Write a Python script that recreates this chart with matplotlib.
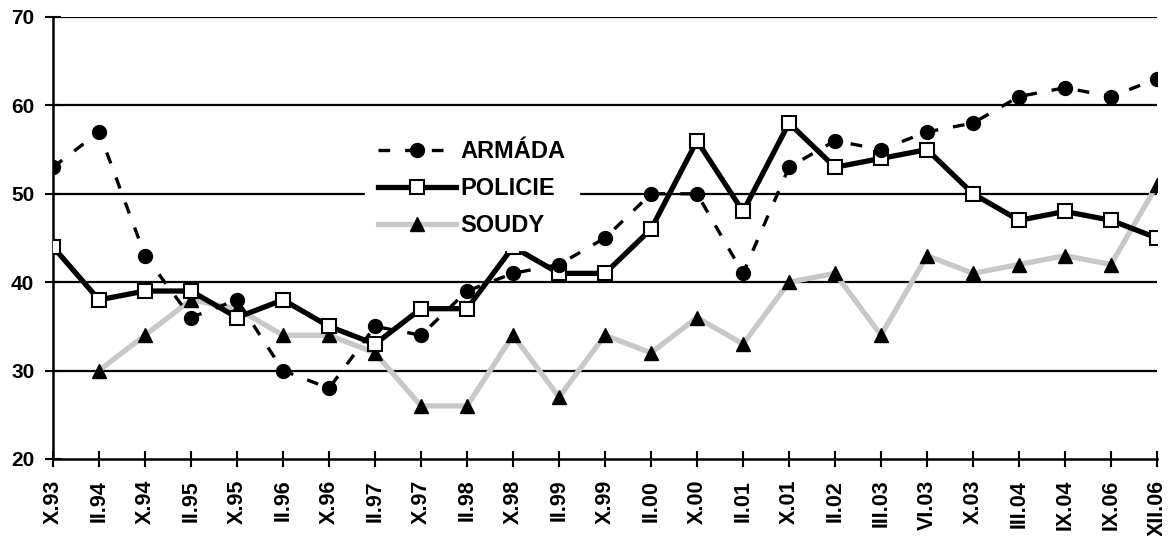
import numpy as np
import matplotlib.pyplot as plt

# Survey waves
periods = ['X.93', 'II.94', 'X.94', 'II.95', 'X.95', 'II.96', 'X.96', 'II.97', 'X.97',
           'II.98', 'X.98', 'II.99', 'X.99', 'II.00', 'X.00', 'II.01', 'X.01', 'II.02',
           'III.03', 'VI.03', 'X.03', 'III.04', 'IX.04', 'IX.06', 'XII.06']

armada = [53, 57, 43, 36, 38, 30, 28, 35, 34, 39, 41, 42, 45, 50, 50, 41, 53, 56,
          55, 57, 58, 61, 62, 61, 63]
policie = [44, 38, 39, 39, 36, 38, 35, 33, 37, 37, 44, 41, 41, 46, 56, 48, 58, 53,
           54, 55, 50, 47, 48, 47, 45]
# no value for the first wave
soudy = [np.nan, 30, 34, 38, 37, 34, 34, 32, 26, 26, 34, 27, 34, 32, 36, 33, 40, 41,
         34, 43, 41, 42, 43, 42, 51]

plt.rcParams['font.family'] = ['Liberation Sans', 'DejaVu Sans']
plt.rcParams['font.weight'] = 'bold'

fig = plt.figure(figsize=(11.68, 5.36), dpi=100)
ax = fig.add_axes([0.0454, 0.1437, 0.9452, 0.8246])

x = np.arange(len(periods))

ax.plot(x, soudy, color='#c8c8c8', lw=3.8, marker='^', ms=10.5,
        mfc='black', mec='black', label='SOUDY', zorder=3)
ax.plot(x, policie, color='black', lw=3.8, marker='s', ms=10,
        mfc='white', mec='black', mew=1.5, label='POLICIE', zorder=4)
ax.plot(x, armada, color='black', lw=2.4, ls=(0, (3.5, 4.5)), marker='o', ms=10,
        mfc='black', mec='black', label='ARMÁDA', zorder=5)

ax.set_xlim(0, len(periods) - 1)
ax.set_ylim(20, 70)
ax.set_yticks([20, 30, 40, 50, 60, 70])
ax.set_xticks(x)
ax.set_xticklabels(periods, rotation=90, fontsize=15.5, fontweight='bold')
ax.tick_params(axis='y', labelsize=15, direction='inout', length=11, width=1.5, pad=8)
ax.tick_params(axis='x', direction='inout', length=12, width=1.5, pad=9)

for v in [30, 40, 50, 60, 70]:
    ax.axhline(v, color='black', lw=1.6, zorder=1)

for s in ['top', 'right']:
    ax.spines[s].set_visible(False)
for s in ['left', 'bottom']:
    ax.spines[s].set_linewidth(1.8)

handles, labels = ax.get_legend_handles_labels()
leg = ax.legend(handles[::-1], labels[::-1], loc='center left', bbox_to_anchor=(0.272, 0.612),
                frameon=True, fancybox=False, edgecolor='white', facecolor='white',
                framealpha=1, fontsize=17, handlelength=3.3, labelspacing=0.6,
                handletextpad=0.2, borderpad=0.55)
leg.set_zorder(6)

fig.savefig('out.png', dpi=100)
